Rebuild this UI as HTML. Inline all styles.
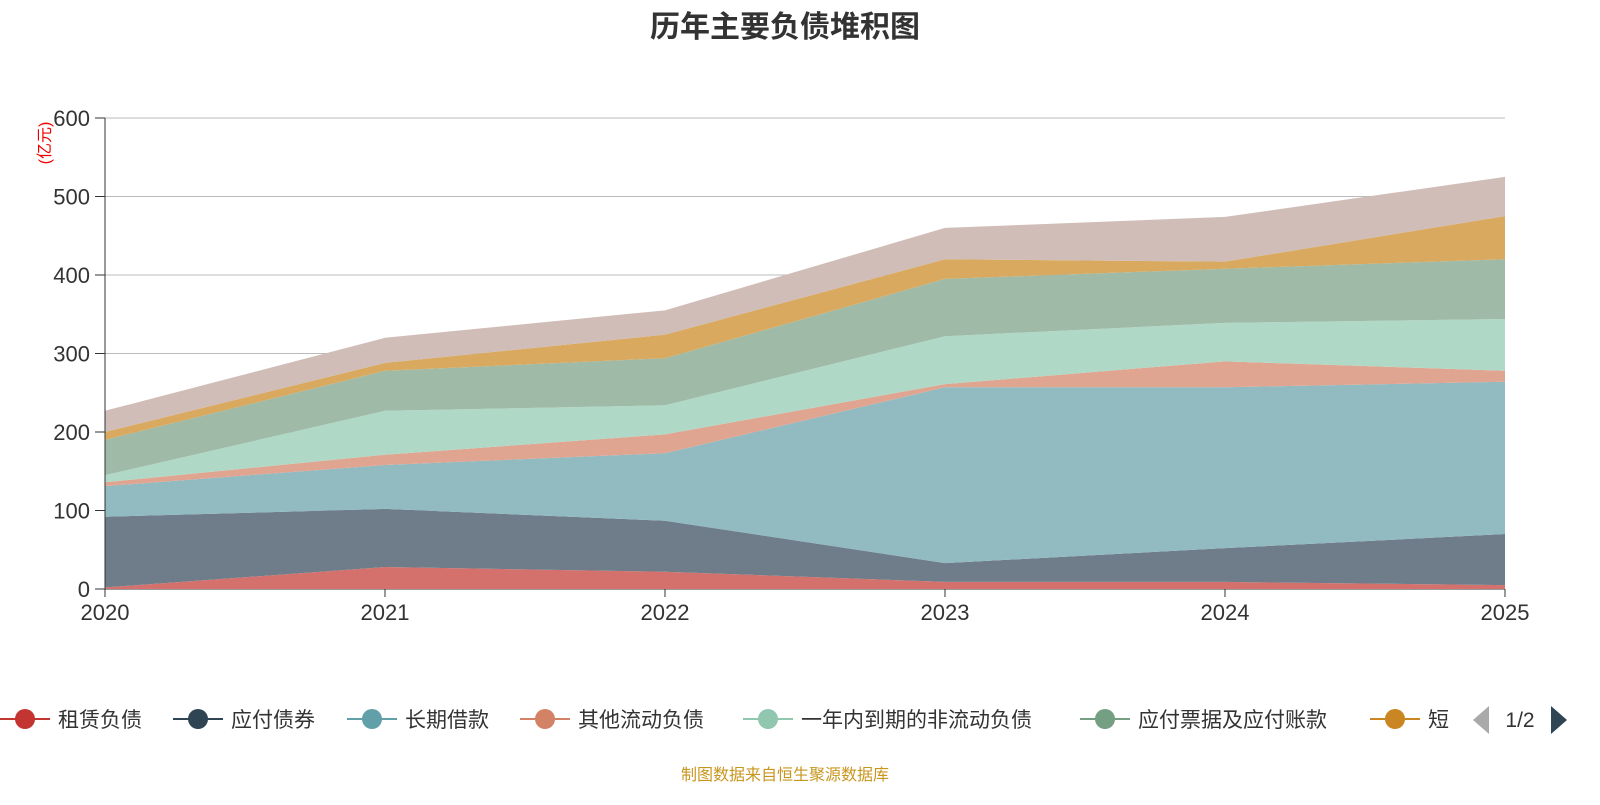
<!DOCTYPE html>
<html><head><meta charset="utf-8"><style>
body{margin:0;width:1600px;height:800px;background:#fff;overflow:hidden;font-family:"Liberation Sans","Noto Sans CJK SC",sans-serif;}
</style></head><body>
<svg id="chart" width="1600" height="800">
<text x="785" y="37" text-anchor="middle" font-size="30" font-weight="bold" fill="#333">历年主要负债堆积图</text>
<text transform="translate(50,143) rotate(-90)" text-anchor="middle" font-size="16" fill="#e00">(亿元)</text>
<g id="grid"></g><g id="areas"></g><g id="axes"></g><g id="legend"></g>
<text x="785" y="780" text-anchor="middle" font-size="16" fill="#c8961e">制图数据来自恒生聚源数据库</text>
</svg>
<script>
const years=["2020","2021","2022","2023","2024","2025"];
const yTicks=[0,100,200,300,400,500,600];
const seriesNames=["租赁负债","应付债券","长期借款","其他流动负债","一年内到期的非流动负债","应付票据及应付账款","短期借款","其他"];
const lease=[2,28,22,9,9,5];
const bonds=[90,74,65,24,43,65];
const longLoan=[39,56,86,224,205,194];
const otherCur=[5,13,24,4,33,14];
const oneYear=[9,56,37,61,49,66];
const payable=[45,51,60,73,69,76];
const shortLoan=[10,10,30,25,9,55];
const others=[27,32,31,40,57,50];
const series=[lease,bonds,longLoan,otherCur,oneYear,payable,shortLoan,others];
const fills=["#d5716d","#6e7d89","#91bac1","#e0a591","#b0d8c6","#9fbaa6","#d8a95f","#d0bdb7"];
const legendColors=["#c23531","#2f4554","#61a0a8","#d48265","#91c7ae","#749f83","#ca8622"];
const NS="http://www.w3.org/2000/svg";
const x=i=>105+i*280, y=v=>589-v*(471/600);
function mk(t,a,p){const e=document.createElementNS(NS,t);for(const k in a)e.setAttribute(k,a[k]);p.appendChild(e);return e;}
const grid=document.getElementById('grid'),axes=document.getElementById('axes'),areas=document.getElementById('areas');
yTicks.forEach(v=>{
 const l=mk('line',{x1:105,x2:1505,y1:y(v),y2:y(v),stroke:v?"#bbb":"#333"},grid);
 
 mk('line',{x1:95,x2:105,y1:y(v),y2:y(v),stroke:"#333"},axes);
 const t=mk('text',{x:90,y:y(v)+8,"text-anchor":"end","font-size":22,fill:"#333"},axes);t.textContent=v;
 
});
mk('line',{x1:105,x2:105,y1:118,y2:589,stroke:"#333"},axes);
years.forEach((yr,i)=>{
 mk('line',{x1:x(i),x2:x(i),y1:589,y2:597,stroke:"#333"},axes);
 const t=mk('text',{x:x(i),y:620,"text-anchor":"middle","font-size":22,fill:"#333"},axes);t.textContent=yr;
 
});
let base=years.map(()=>0);
series.forEach((s,k)=>{
 const top=base.map((b,i)=>b+s[i]);
 let d=top.map((v,i)=>(i?'L':'M')+x(i)+','+y(v)).join('');
 for(let i=years.length-1;i>=0;i--)d+='L'+x(i)+','+y(base[i]);
 const p=mk('path',{d:d+'Z',fill:fills[k],stroke:"none"},areas);
 
 base=top;
});
const lg=document.getElementById('legend');
const lx=[0,173,347,520,743,1080,1370];
legendColors.forEach((c,i)=>{
 const g=mk('g',{},lg);
 const x0=lx[i];
 mk('line',{x1:x0,x2:x0+50,y1:719,y2:719,stroke:c,"stroke-width":2},g);
 mk('circle',{cx:x0+25,cy:719,r:10,fill:c},g);
 const t=mk('text',{x:x0+58,y:727,"font-size":21,fill:"#333"},g);t.textContent=i==6?"短":seriesNames[i];
});
const pg=mk('g',{},lg);
mk('path',{d:"M1489,706L1489,734L1473,720Z",fill:"#aaa"},pg);
const pt=mk('text',{x:1520,y:727,"text-anchor":"middle","font-size":21,fill:"#333"},pg);pt.textContent="1/2";
mk('path',{d:"M1551,706L1551,734L1567,720Z",fill:"#2f4554"},pg);
</script>
</body></html>
